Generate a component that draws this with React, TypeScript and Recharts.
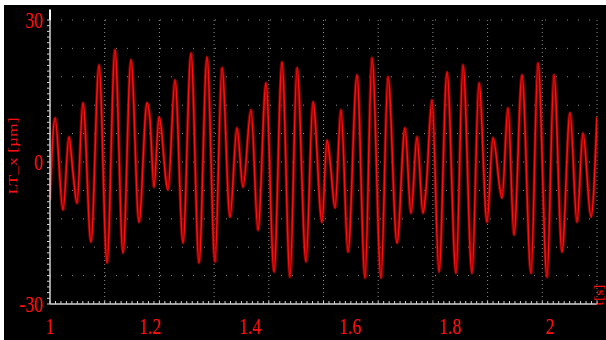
import {
	LineChart,
	Line,
	XAxis,
	YAxis,
	CartesianGrid,
	ReferenceLine,
	Label,
} from 'recharts';

// sample times [s] and displacement [µm] at each turning point of the trace
const time = [
	1.0, 1.01, 1.026, 1.038, 1.046, 1.054, 1.066, 1.082, 1.098, 1.114,
	1.13, 1.146, 1.162, 1.178, 1.194, 1.2, 1.208, 1.218, 1.236, 1.25,
	1.266, 1.282, 1.298, 1.314, 1.33, 1.344, 1.36, 1.374, 1.386, 1.402,
	1.416, 1.432, 1.448, 1.464, 1.48, 1.494, 1.512, 1.526, 1.544, 1.554,
	1.56, 1.57, 1.582, 1.596, 1.614, 1.63, 1.644, 1.662, 1.676, 1.694,
	1.71, 1.722, 1.734, 1.746, 1.752, 1.764, 1.778, 1.794, 1.812, 1.826,
	1.844, 1.858, 1.874, 1.886, 1.904, 1.916, 1.928, 1.944, 1.962, 1.976,
	1.994, 2.008, 2.024, 2.04, 2.054, 2.066, 2.082, 2.094,
];
const displacement = [
	-8.0, 9.3, -10.1, 5.3, -2.3, -8.7, 12.5, -16.9, 20.5, -21.3,
	23.7, -19.2, 21.6, -12.7, 12.5, 8.9, -5.3, 9.5, -5.9, 17.3,
	-17.1, 23.0, -21.3, 22.2, -21.1, 19.9, -11.6, 7.2, -5.3, 11.0,
	-14.4, 16.7, -23.2, 21.1, -24.3, 19.9, -21.1, 12.7, -12.7, 4.6,
	0.4, -9.7, 11.0, -19.0, 18.4, -24.5, 22.0, -24.5, 18.0, -17.1,
	7.2, -10.8, 5.3, -10.8, -5.9, 13.1, -23.2, 19.0, -23.5, 20.5,
	-23.5, 16.7, -12.7, 5.1, -7.6, 11.4, -15.4, 18.4, -23.5, 20.9,
	-24.3, 18.4, -19.0, 10.4, -12.7, 6.1, -11.6, 9.5,
];

const timeLabels = [1, 1.2, 1.4, 1.6, 1.8, 2];
const valueLabels = [-30, 0, 30];

const T_MIN = 1;
const T_MAX = 2.094;
const V_MIN = -30;
const V_MAX = 30;

const data = time.map((t, i) => ({ t, v: displacement[i] }));

// scope style grid: 10 divisions each way, minor ticks inside each division
const tDiv = (T_MAX - T_MIN) / 10;
const tMinorStep = tDiv / 10;
const vDiv = (V_MAX - V_MIN) / 10;
const vMinorStep = vDiv / 5;

const tGrid = Array.from({ length: 10 }, (_, i) => T_MIN + (i + 1) * tDiv);
const vGrid = Array.from({ length: 10 }, (_, i) => V_MIN + (i + 1) * vDiv);
const tMinor = Array.from({ length: 101 }, (_, i) => T_MIN + i * tMinorStep);
const vMinor = Array.from({ length: 51 }, (_, i) => V_MIN + i * vMinorStep);

const RED = '#ff1010';
const AXIS = '#d2d2d2';
const SERIF = '"Liberation Serif", "Times New Roman", serif';

const near = (a: number, b: number) => Math.abs(a - b) < 1e-6;

function TimeTick(props: any) {
	const { x, y, payload } = props;
	const v = payload.value;
	const isLabel = timeLabels.some((l) => near(l, v));
	const k = (v - T_MIN) / tMinorStep;
	const isMinor = Math.abs(k - Math.round(k)) < 1e-6;
	return (
		<g>
			{isMinor && <line x1={x} x2={x} y1={y} y2={y - 3} stroke={AXIS} strokeWidth={1} />}
			{isLabel && (
				<text
					transform={`translate(${x},${y + 30}) scale(0.74,1)`}
					textAnchor='middle'
					fill={RED}
					fontFamily={SERIF}
					fontSize={24}
				>
					{String(Number(v.toFixed(1)))}
				</text>
			)}
		</g>
	);
}

function ValueTick(props: any) {
	const { x, y, payload } = props;
	const v = payload.value;
	const isLabel = valueLabels.some((l) => near(l, v));
	return (
		<g>
			<line x1={x} x2={x - 3} y1={y} y2={y} stroke={AXIS} strokeWidth={1} />
			{isLabel && (
				<text
					transform={`translate(${x - 7},${y + 8}) scale(0.74,1)`}
					textAnchor='end'
					fill={RED}
					fontFamily={SERIF}
					fontSize={24}
				>
					{Math.round(v)}
				</text>
			)}
		</g>
	);
}

export default function App() {
	return (
		<div style={{ position: 'absolute', left: 0, top: 0, width: 606, height: 340, background: '#fff' }}>
			<div style={{ position: 'absolute', left: 4, top: 5, width: 602, height: 335, background: '#000' }}>
				<LineChart
					width={602}
					height={335}
					data={data}
					margin={{ top: 15, right: 9, left: 0, bottom: 0 }}
				>
					<CartesianGrid
						vertical={false}
						horizontalValues={vGrid}
						stroke='#8c8c8c'
						strokeDasharray='1 10'
					/>
					<CartesianGrid
						horizontal={false}
						verticalValues={tGrid}
						stroke='#8c8c8c'
						strokeDasharray='1 3'
					/>
					<XAxis
						dataKey='t'
						type='number'
						domain={[T_MIN, T_MAX]}
						allowDataOverflow
						ticks={[...tMinor, ...timeLabels.slice(1)]}
						interval={0}
						tick={<TimeTick />}
						tickLine={false}
						tickSize={0}
						tickMargin={0}
						height={36}
						axisLine={{ stroke: AXIS, strokeWidth: 1.5 }}
					>
						<Label
							content={(p: any) => {
								const vb = p.viewBox;
								const cx = vb.x + vb.width + 6;
								const cy = vb.y - 9;
								return (
									<text
										transform={`translate(${cx},${cy}) rotate(-90) scale(1.3,1)`}
										textAnchor='middle'
										fill={RED}
										fontFamily={SERIF}
										fontSize={12}
									>
										t[s]
									</text>
								);
							}}
						/>
					</XAxis>
					<YAxis
						type='number'
						domain={[V_MIN, V_MAX]}
						allowDataOverflow
						ticks={vMinor}
						interval={0}
						tick={<ValueTick />}
						tickLine={false}
						tickSize={0}
						tickMargin={0}
						width={46}
						axisLine={{ stroke: AXIS, strokeWidth: 1.5 }}
					>
						<Label
							content={(p: any) => {
								const vb = p.viewBox;
								const cx = vb.x + 8;
								const cy = vb.y + vb.height / 2 - 6;
								return (
									<text
										transform={`translate(${cx},${cy}) rotate(-90) scale(1.35,1)`}
										textAnchor='middle'
										dominantBaseline='central'
										fill={RED}
										fontFamily={SERIF}
										fontSize={13}
									>
										LT_x [µm]
									</text>
								);
							}}
						/>
					</YAxis>
					<ReferenceLine
						segment={[
							{ x: T_MIN, y: V_MAX },
							{ x: T_MIN, y: 32.2 },
						]}
						ifOverflow='visible'
						stroke='#ffffff'
						strokeWidth={2}
					/>
					<Line
						type='monotone'
						dataKey='v'
						stroke='#b00000'
						strokeWidth={3.2}
						strokeOpacity={0.7}
						dot={false}
						activeDot={false}
						isAnimationActive={false}
					/>
					<Line
						type='monotone'
						dataKey='v'
						stroke={RED}
						strokeWidth={1.5}
						dot={false}
						activeDot={false}
						isAnimationActive={false}
					/>
				</LineChart>
			</div>
		</div>
	);
}
